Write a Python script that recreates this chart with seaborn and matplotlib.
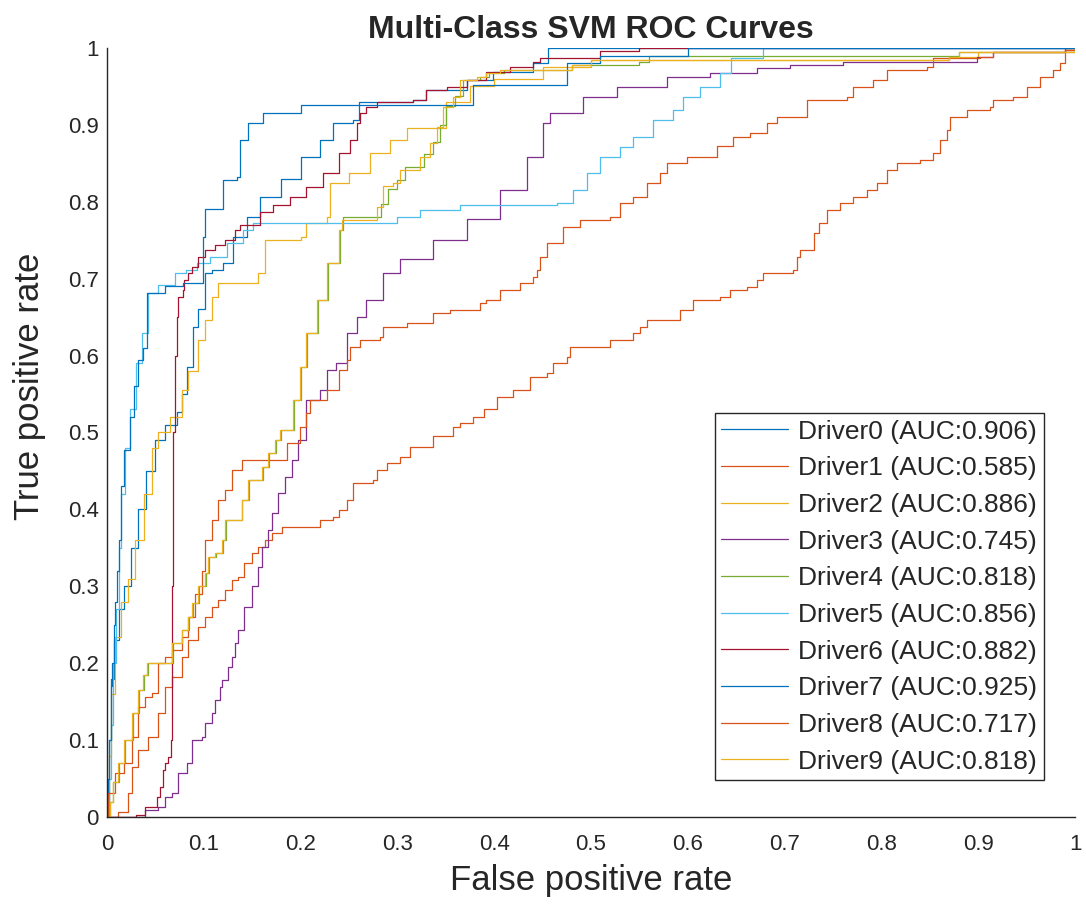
import matplotlib
matplotlib.use("Agg")
import matplotlib.pyplot as plt
import seaborn as sns
import pandas as pd

# ROC curve vertices (false positive rate, true positive rate) per driver class
fpr_0 = [0, 0.002, 0.004, 0.007, 0.012, 0.018, 0.025, 0.032, 0.04, 0.05, 0.06, 0.072, 0.078, 0.083, 0.089,
         0.094, 0.101, 0.108, 0.12, 0.13, 0.145, 0.158, 0.18, 0.2, 0.22, 0.234, 0.254, 0.26, 0.316, 0.33,
         0.372, 0.399, 0.44, 0.456, 0.456, 1.0]
tpr_0 = [0, 0.1, 0.18, 0.23, 0.27, 0.3, 0.35, 0.4, 0.45, 0.49, 0.51, 0.527, 0.55, 0.585, 0.637,
         0.66, 0.707, 0.711, 0.72, 0.754, 0.78, 0.806, 0.83, 0.858, 0.88, 0.902, 0.906, 0.93, 0.932, 0.945,
         0.958, 0.969, 0.98, 0.98, 1.0, 1.0]

fpr_1 = [0, 0.005, 0.011, 0.022, 0.026, 0.032, 0.042, 0.053, 0.06, 0.067, 0.077, 0.084, 0.094, 0.101, 0.108,
         0.115, 0.122, 0.129, 0.135, 0.142, 0.15, 0.156, 0.163, 0.17, 0.181, 0.213, 0.22, 0.234, 0.24, 0.248,
         0.254, 0.275, 0.279, 0.289, 0.303, 0.313, 0.337, 0.357, 0.365, 0.378, 0.389, 0.403, 0.419, 0.437,
         0.455, 0.461, 0.475, 0.478, 0.496, 0.52, 0.543, 0.551, 0.558, 0.589, 0.592, 0.605, 0.633, 0.644,
         0.661, 0.671, 0.678, 0.709, 0.713, 0.716, 0.73, 0.736, 0.744, 0.757, 0.771, 0.785, 0.795, 0.806,
         0.816, 0.84, 0.853, 0.86, 0.868, 0.871, 0.888, 0.912, 0.915, 0.936, 0.95, 0.964, 0.977, 0.984,
         0.99, 1.0]
tpr_1 = [0, 0, 0.007, 0.031, 0.065, 0.087, 0.104, 0.135, 0.169, 0.182, 0.208, 0.23, 0.247, 0.26, 0.273,
         0.282, 0.295, 0.308, 0.312, 0.33, 0.343, 0.351, 0.36, 0.369, 0.377, 0.377, 0.386, 0.39, 0.399, 0.412,
         0.434, 0.438, 0.451, 0.46, 0.468, 0.481, 0.495, 0.507, 0.512, 0.52, 0.531, 0.546, 0.555, 0.572,
         0.577, 0.59, 0.598, 0.611, 0.611, 0.62, 0.629, 0.637, 0.646, 0.646, 0.659, 0.672, 0.676, 0.685,
         0.689, 0.698, 0.707, 0.711, 0.728, 0.737, 0.759, 0.772, 0.789, 0.798, 0.806, 0.815, 0.824, 0.841,
         0.85, 0.854, 0.863, 0.88, 0.893, 0.91, 0.919, 0.923, 0.932, 0.936, 0.949, 0.962, 0.971, 0.98,
         0.997, 1.0]

fpr_2 = [0, 0.002, 0.004, 0.008, 0.015, 0.022, 0.029, 0.038, 0.046, 0.053, 0.065, 0.077, 0.084, 0.094, 0.101,
         0.108, 0.115, 0.156, 0.163, 0.2, 0.206, 0.227, 0.23, 0.25, 0.272, 0.292, 0.31, 0.341, 0.35, 0.375,
         0.4, 0.45, 0.5, 0.87, 0.9, 0.99, 1.0]
tpr_2 = [0, 0.08, 0.16, 0.234, 0.28, 0.31, 0.36, 0.42, 0.48, 0.5, 0.52, 0.555, 0.58, 0.62, 0.646,
         0.676, 0.694, 0.707, 0.75, 0.754, 0.772, 0.78, 0.824, 0.837, 0.863, 0.88, 0.896, 0.896, 0.93, 0.95,
         0.96, 0.975, 0.985, 0.988, 0.995, 0.997, 1.0]

fpr_3 = [0, 0.03, 0.039, 0.053, 0.06, 0.067, 0.073, 0.083, 0.088, 0.098, 0.101, 0.108, 0.112, 0.117, 0.119,
         0.125, 0.129, 0.132, 0.135, 0.142, 0.15, 0.156, 0.16, 0.166, 0.17, 0.177, 0.184, 0.191, 0.197,
         0.206, 0.22, 0.227, 0.237, 0.248, 0.258, 0.268, 0.285, 0.303, 0.337, 0.372, 0.406, 0.434, 0.45,
         0.458, 0.492, 0.527, 0.578, 0.623, 0.671, 0.706, 0.76, 0.847, 0.899, 0.915, 0.99, 1.0]
tpr_3 = [0, 0, 0.009, 0.013, 0.026, 0.031, 0.057, 0.07, 0.1, 0.104, 0.122, 0.135, 0.152, 0.169, 0.178,
         0.195, 0.208, 0.226, 0.243, 0.273, 0.3, 0.325, 0.351, 0.373, 0.395, 0.421, 0.442, 0.464, 0.49,
         0.542, 0.555, 0.581, 0.59, 0.629, 0.65, 0.672, 0.707, 0.725, 0.75, 0.778, 0.815, 0.858, 0.902,
         0.915, 0.936, 0.949, 0.962, 0.967, 0.974, 0.978, 0.982, 0.982, 0.988, 0.995, 1.0, 1.0]

fpr_4 = [0, 0.003, 0.006, 0.012, 0.019, 0.027, 0.033, 0.038, 0.042, 0.061, 0.068, 0.078, 0.085, 0.089, 0.095,
         0.102, 0.105, 0.113, 0.12, 0.123, 0.14, 0.14, 0.147, 0.161, 0.167, 0.175, 0.18, 0.193, 0.2, 0.207,
         0.218, 0.228, 0.241, 0.244, 0.275, 0.283, 0.29, 0.3, 0.308, 0.32, 0.327, 0.337, 0.344, 0.35,
         0.36, 0.368, 0.385, 0.395, 0.41, 0.48, 0.55, 0.56, 0.87, 0.88, 0.99, 1.0]
tpr_4 = [0, 0.02, 0.045, 0.07, 0.1, 0.135, 0.165, 0.185, 0.2, 0.2, 0.226, 0.243, 0.26, 0.278, 0.3,
         0.317, 0.338, 0.343, 0.36, 0.386, 0.386, 0.412, 0.438, 0.455, 0.473, 0.49, 0.503, 0.542, 0.585, 0.629,
         0.672, 0.72, 0.763, 0.78, 0.78, 0.797, 0.816, 0.828, 0.845, 0.845, 0.862, 0.878, 0.9, 0.925,
         0.938, 0.958, 0.962, 0.967, 0.971, 0.978, 0.982, 0.99, 0.99, 0.995, 0.995, 1.0]

fpr_5 = [0, 0.002, 0.004, 0.006, 0.009, 0.012, 0.015, 0.019, 0.024, 0.03, 0.036, 0.042, 0.053, 0.07, 0.082,
         0.093, 0.106, 0.124, 0.141, 0.151, 0.206, 0.3, 0.323, 0.365, 0.465, 0.481, 0.496, 0.509, 0.53,
         0.543, 0.564, 0.585, 0.595, 0.613, 0.633, 0.645, 0.678, 0.678, 1.0]
tpr_5 = [0, 0.05, 0.12, 0.2, 0.27, 0.35, 0.42, 0.48, 0.53, 0.59, 0.63, 0.681, 0.692, 0.707, 0.711,
         0.72, 0.728, 0.746, 0.763, 0.772, 0.772, 0.78, 0.789, 0.796, 0.798, 0.815, 0.837, 0.858, 0.871,
         0.884, 0.906, 0.919, 0.936, 0.949, 0.967, 0.987, 0.993, 1.0, 1.0]

fpr_6 = [0, 0.02, 0.03, 0.039, 0.052, 0.055, 0.058, 0.06, 0.063, 0.066, 0.067, 0.068, 0.07, 0.072, 0.073,
         0.079, 0.08, 0.084, 0.088, 0.094, 0.101, 0.112, 0.122, 0.132, 0.137, 0.158, 0.171, 0.189, 0.206,
         0.223, 0.24, 0.251, 0.258, 0.261, 0.268, 0.279, 0.316, 0.33, 0.351, 0.372, 0.392, 0.416, 0.44,
         0.447, 0.509, 0.55, 1.0]
tpr_6 = [0, 0, 0.003, 0.013, 0.026, 0.039, 0.061, 0.07, 0.078, 0.1, 0.3, 0.5, 0.6, 0.65, 0.676,
         0.685, 0.698, 0.707, 0.715, 0.728, 0.737, 0.744, 0.75, 0.763, 0.77, 0.787, 0.796, 0.806, 0.819,
         0.837, 0.863, 0.88, 0.902, 0.915, 0.923, 0.93, 0.932, 0.945, 0.949, 0.958, 0.969, 0.975, 0.982,
         0.987, 0.996, 1.0, 1.0]

fpr_7 = [0, 0.001, 0.002, 0.004, 0.005, 0.007, 0.008, 0.01, 0.012, 0.014, 0.015, 0.018, 0.024, 0.028, 0.032,
         0.037, 0.041, 0.041, 0.06, 0.06, 0.079, 0.099, 0.099, 0.101, 0.12, 0.12, 0.134, 0.137, 0.146,
         0.161, 0.2, 0.378, 0.378, 0.475, 0.475, 0.509, 0.595, 0.6, 1.0]
tpr_7 = [0, 0.05, 0.1, 0.17, 0.2, 0.25, 0.28, 0.32, 0.36, 0.4, 0.43, 0.477, 0.52, 0.56, 0.594,
         0.61, 0.62, 0.681, 0.683, 0.69, 0.694, 0.694, 0.754, 0.79, 0.79, 0.828, 0.832, 0.88, 0.902,
         0.915, 0.926, 0.926, 0.952, 0.952, 0.98, 0.99, 0.99, 1.0, 1.0]

fpr_8 = [0, 0.001, 0.008, 0.018, 0.026, 0.032, 0.039, 0.046, 0.053, 0.06, 0.067, 0.077, 0.084, 0.091, 0.098,
         0.101, 0.108, 0.115, 0.122, 0.129, 0.139, 0.179, 0.186, 0.199, 0.206, 0.21, 0.227, 0.24, 0.248,
         0.251, 0.261, 0.282, 0.285, 0.31, 0.337, 0.354, 0.385, 0.392, 0.406, 0.427, 0.44, 0.444, 0.447,
         0.455, 0.471, 0.489, 0.52, 0.53, 0.543, 0.558, 0.571, 0.578, 0.599, 0.63, 0.647, 0.664, 0.682,
         0.692, 0.716, 0.723, 0.764, 0.771, 0.791, 0.806, 0.847, 0.853, 0.902, 0.915, 0.99, 1.0]
tpr_8 = [0, 0.031, 0.057, 0.07, 0.104, 0.143, 0.156, 0.161, 0.2, 0.208, 0.217, 0.234, 0.26, 0.29, 0.32,
         0.36, 0.386, 0.412, 0.425, 0.451, 0.464, 0.464, 0.486, 0.507, 0.525, 0.542, 0.555, 0.581, 0.594,
         0.611, 0.62, 0.624, 0.637, 0.642, 0.655, 0.659, 0.668, 0.672, 0.685, 0.694, 0.702, 0.711, 0.728,
         0.746, 0.767, 0.776, 0.78, 0.798, 0.806, 0.824, 0.837, 0.85, 0.858, 0.873, 0.884, 0.889, 0.902,
         0.91, 0.91, 0.932, 0.936, 0.949, 0.958, 0.971, 0.975, 0.987, 0.988, 0.995, 0.997, 1.0]

fpr_9 = [0, 0.003, 0.006, 0.011, 0.018, 0.026, 0.032, 0.037, 0.041, 0.06, 0.067, 0.077, 0.084, 0.088, 0.094,
         0.101, 0.104, 0.112, 0.119, 0.122, 0.139, 0.139, 0.146, 0.16, 0.166, 0.174, 0.179, 0.192, 0.199,
         0.206, 0.217, 0.227, 0.24, 0.243, 0.272, 0.279, 0.285, 0.295, 0.303, 0.316, 0.323, 0.334, 0.341,
         0.347, 0.357, 0.365, 0.382, 0.392, 0.406, 0.48, 0.5, 0.87, 0.88, 0.99, 1.0]
tpr_9 = [0, 0.02, 0.045, 0.07, 0.1, 0.135, 0.165, 0.185, 0.2, 0.2, 0.226, 0.243, 0.26, 0.278, 0.3,
         0.317, 0.338, 0.343, 0.36, 0.386, 0.386, 0.412, 0.438, 0.455, 0.473, 0.49, 0.503, 0.542, 0.585,
         0.629, 0.672, 0.72, 0.763, 0.776, 0.776, 0.793, 0.82, 0.824, 0.841, 0.841, 0.858, 0.876, 0.897,
         0.923, 0.936, 0.958, 0.962, 0.967, 0.971, 0.978, 0.985, 0.988, 0.995, 0.995, 1.0]

class_names = [f"Driver{i}" for i in range(10)]
auc_values = [0.906, 0.585, 0.886, 0.745, 0.818, 0.856, 0.882, 0.925, 0.717, 0.818]

fpr_all = [fpr_0, fpr_1, fpr_2, fpr_3, fpr_4, fpr_5, fpr_6, fpr_7, fpr_8, fpr_9]
tpr_all = [tpr_0, tpr_1, tpr_2, tpr_3, tpr_4, tpr_5, tpr_6, tpr_7, tpr_8, tpr_9]

# MATLAB-style default line color order (7 colors, cycling)
line_colors = ["#0072BD", "#D95319", "#EDB120", "#7E2F8E", "#77AC30", "#4DBEEE", "#A2142F"]

labels = [f"{n} (AUC:{a:.3f})" for n, a in zip(class_names, auc_values)]
frames = []
for lab, fx, ty in zip(labels, fpr_all, tpr_all):
    frames.append(pd.DataFrame({"fpr": fx, "tpr": ty, "curve": lab}))
roc = pd.concat(frames, ignore_index=True)
palette = {lab: line_colors[i % len(line_colors)] for i, lab in enumerate(labels)}

sns.set_style("white")
plt.rcParams["font.family"] = ["Liberation Sans", "DejaVu Sans"]

fig = plt.figure(figsize=(10.86, 9.05), dpi=100)
ax = fig.add_axes([0.0985, 0.0972, 0.8914, 0.8498])

sns.lineplot(data=roc, x="fpr", y="tpr", hue="curve", hue_order=labels, palette=palette,
             estimator=None, sort=False, drawstyle="steps-post", linewidth=0.9, ax=ax)

ax.set_xlim(0, 1)
ax.set_ylim(0, 1)
ticks = [i / 10 for i in range(11)]
tick_text = ["0"] + [f"{t:.1f}" for t in ticks[1:-1]] + ["1"]
ax.set_xticks(ticks)
ax.set_xticklabels(tick_text)
ax.set_yticks(ticks)
ax.set_yticklabels(tick_text)
ax.tick_params(direction="in", length=7, width=1, labelsize=16, colors="#262626",
               labelcolor="#262626")
ax.tick_params(axis="x", pad=12)
ax.tick_params(axis="y", pad=6)
for side in ["top", "right"]:
    ax.spines[side].set_visible(False)
for side in ["left", "bottom"]:
    ax.spines[side].set_color("#262626")
    ax.spines[side].set_linewidth(1.0)

ax.set_xlabel("False positive rate", fontsize=25, color="#262626")
ax.set_ylabel("True positive rate", fontsize=25, color="#262626")
ax.xaxis.set_label_coords(0.5, -0.061)
ax.yaxis.set_label_coords(-0.063, 0.56)
ax.set_title("Multi-Class SVM ROC Curves", fontsize=23, fontweight="bold", pad=7)

handles, hlabels = ax.get_legend_handles_labels()
leg = ax.legend(handles, hlabels, loc="lower right", bbox_to_anchor=(0.968, 0.048),
                borderaxespad=0, fontsize=19, handlelength=2.55, labelspacing=0.48,
                frameon=True, fancybox=False, framealpha=1, edgecolor="#262626",
                borderpad=0.25, handletextpad=0.38)
leg.get_frame().set_linewidth(1.0)

fig.savefig("out.png", dpi=100)
